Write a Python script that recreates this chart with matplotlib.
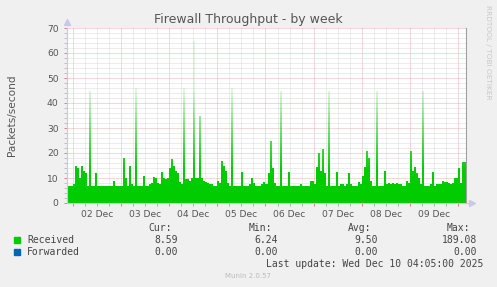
import numpy as np
import matplotlib
matplotlib.use("Agg")
import matplotlib.pyplot as plt
from matplotlib.patches import Rectangle
from matplotlib.ticker import MultipleLocator, FuncFormatter

# --- data: hourly packets/second, starting Mon Dec 1 21:00 ---
start_hour = 21  # hours since Dec 1 00:00
received = [
    7, 7, 7, 7.5, 15, 14, 10, 15, 13, 12, 7, 45, 7, 6.8, 12, 7, 7, 7, 7, 7,
    7, 7, 7, 9, 7, 7, 7, 7, 18, 10, 7, 15, 7.5, 7, 46, 7, 7, 7, 11, 7,
    7, 7.5, 8, 10.5, 10, 8, 7.5, 12.5, 10, 9.5, 10, 14, 17.5, 15, 13, 12, 8.5, 7.5, 46, 9.5,
    9.5, 9, 10, 65, 10, 10, 35, 10, 9, 8.5, 8, 7.5, 7.5, 7, 7, 9, 8, 17, 15, 13,
    8, 7, 46, 7, 7, 7, 7, 12.5, 7, 7, 7, 7.5, 10, 8, 7, 7, 7, 7.5, 8.5, 7.5,
    12, 25, 14, 8, 7, 7, 45, 7, 7, 7, 12.5, 7, 7, 7, 7, 7, 7.5, 7, 7, 7,
    7, 9, 9, 7.5, 14.5, 20, 13, 21.5, 12, 7, 45, 7, 7, 7, 12.5, 7, 7.5, 7.5, 7, 7.5,
    12, 7.5, 7, 7, 7, 8.5, 7.5, 11, 14.5, 21, 18, 9, 7, 7, 45, 7, 7, 7, 13, 7.5,
    8, 7.5, 8, 7.5, 8, 7.5, 7.5, 7, 7, 9, 8, 21, 13, 14.5, 12, 10, 7.5, 45, 7, 7,
    7, 7.5, 12.5, 7, 7.5, 7.5, 7.5, 9, 8.5, 8.5, 8, 7.5, 8, 10, 10, 14, 8, 16.5, 16.5,
]
forwarded = [0.0] * len(received)

day_labels = ["02 Dec", "03 Dec", "04 Dec", "05 Dec", "06 Dec", "07 Dec", "08 Dec", "09 Dec"]
legend_rows = [
    ("Received", "#00CC00", ["8.59", "6.24", "9.50", "189.08"]),
    ("Forwarded", "#0066B3", ["0.00", "0.00", "0.00", "0.00"]),
]
stat_headers = ["Cur:", "Min:", "Avg:", "Max:"]

W, H = 497, 287
BG = "#F0F0F0"
TXT = "#555555"

def fx(px):
    return px / W

def fy(py):
    return 1 - py / H

fig = plt.figure(figsize=(W / 100, H / 100), dpi=100, facecolor=BG)
ax = fig.add_axes([fx(67), fy(203), fx(466) - fx(67), fy(28) - fy(203)])
ax.set_facecolor("white")

n = len(received)
x = start_hour + np.arange(n + 1)
rec = np.append(received, received[-1])
fwd = np.append(forwarded, forwarded[-1])
x0, x1 = x[0], x[-1]
ymax = 70

# received area, coloured with a fade toward the top (narrow spikes look washed out)
poly = ax.fill_between(x, 0, rec, step="post", color="none", lw=0, zorder=2)
vals = np.linspace(0, ymax, 400)
alpha = np.interp(vals, [0, 13, 46, 70], [1.0, 1.0, 0.1, 0.1])
grad = np.zeros((len(vals), 1, 4))
grad[..., 1] = 0.8
grad[..., 3] = alpha[:, None]
im = ax.imshow(grad, extent=[x0, x1, 0, ymax], origin="lower", aspect="auto",
               interpolation="bilinear", zorder=2)
im.set_clip_path(poly.get_paths()[0], transform=ax.transData)
ax.fill_between(x, 0, fwd, step="post", color="#0066B3", lw=0, zorder=3)

ax.set_xlim(x0, x1)
ax.set_ylim(0, ymax)

# grid: gray minor, red major, dotted
ax.xaxis.set_major_locator(MultipleLocator(24))
ax.xaxis.set_minor_locator(MultipleLocator(6))
ax.yaxis.set_major_locator(MultipleLocator(10))
ax.yaxis.set_minor_locator(MultipleLocator(2))
ax.set_axisbelow(True)
ax.grid(which="minor", color="#dadada", lw=0.72, ls=(0, (1, 1)))
ax.grid(which="major", color="#eab0b0", lw=0.72, ls=(0, (1, 1)))

def day_fmt(v, pos):
    h = int(round(v))
    k = h // 24 - 1
    if h % 24 == 12 and 0 <= k < len(day_labels):
        return day_labels[k]
    return ""

ax.xaxis.set_major_formatter(FuncFormatter(lambda v, p: ""))
ax.xaxis.set_minor_formatter(FuncFormatter(day_fmt))
ax.tick_params(axis="x", which="both", length=2, width=0.7, pad=3,
               labelsize=6.6, labelcolor=TXT)
ax.tick_params(axis="x", which="major", color="#e08080")
ax.tick_params(axis="x", which="minor", color="#b0b0b0")
ax.tick_params(axis="y", which="major", length=2, width=0.7, color="#e08080",
               pad=4, labelsize=6.6, labelcolor=TXT)
ax.tick_params(axis="y", which="minor", length=2, width=0.7, color="#c0c0c0")

ax.spines["top"].set_visible(False)
ax.spines["left"].set_color("#c8c8ec")
ax.spines["bottom"].set_color("#c8c8ec")
ax.spines["right"].set_color("#a0a0a0")
for s in ax.spines.values():
    s.set_linewidth(0.8)

# axis arrows
ax.plot([0], [1.035], marker="^", ms=4, color="#c8c8ec", transform=ax.transAxes, clip_on=False)
ax.plot([1.015], [0], marker=">", ms=4, color="#c8c8ec", transform=ax.transAxes, clip_on=False)
ax.plot([1.0, 1.012], [0, 0], color="#c8c8ec", lw=0.8, transform=ax.transAxes, clip_on=False)

# titles
fig.text(0.5, fy(19), "Firewall Throughput - by week", ha="center", va="center",
         fontsize=9, color=TXT)
fig.text(fx(12), fy(115), "Packets/second", rotation=90, ha="center", va="center",
         fontsize=7.6, color=TXT)
fig.text(fx(488), fy(5), "RRDTOOL / TOBI OETIKER", rotation=270, ha="center", va="top",
         fontsize=5.3, color="#c8c8c8")

# legend block
mono = dict(family="DejaVu Sans Mono", fontsize=7, color="#444444")
head_right = [172, 272, 371, 470]
val_right = [178, 278, 378, 477]
for hdr, xr in zip(stat_headers, head_right):
    fig.text(fx(xr), fy(228), hdr, ha="right", va="center", **mono)
for i, (name, col, stats) in enumerate(legend_rows):
    yy = 240 + 12 * i
    fig.add_artist(Rectangle((fx(14), fy(yy + 3)), fx(6), 6 / H, color=col,
                             transform=fig.transFigure))
    fig.text(fx(27), fy(yy), name, ha="left", va="center", **mono)
    for s, xr in zip(stats, val_right):
        fig.text(fx(xr), fy(yy), s, ha="right", va="center", **mono)
fig.text(fx(483), fy(264), "Last update: Wed Dec 10 04:05:00 2025", ha="right",
         va="center", **mono)
fig.text(fx(248), fy(276), "Munin 2.0.57", ha="center", va="center",
         fontsize=5, color="#bbbbbb")

fig.savefig("out.png", dpi=100, facecolor=BG)
